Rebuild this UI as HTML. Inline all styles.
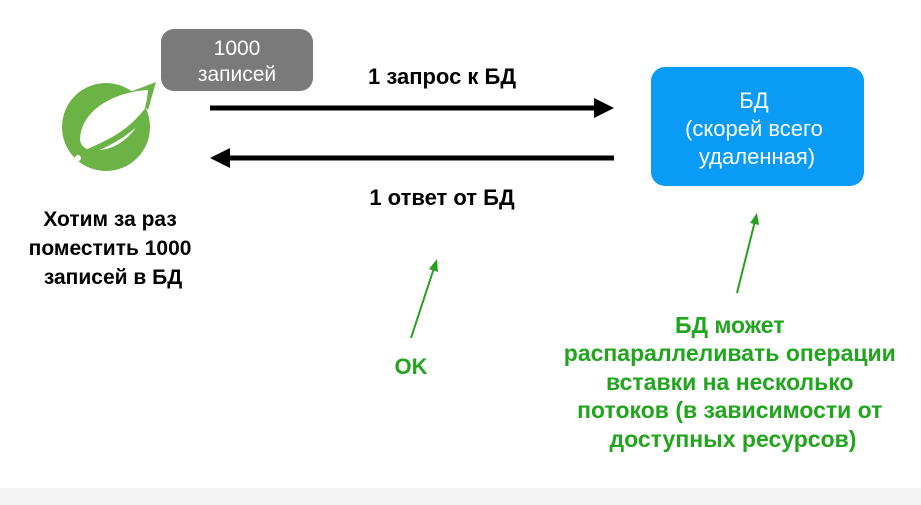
<!DOCTYPE html>
<html><head><meta charset="utf-8"><style>
html,body{margin:0;padding:0;background:#fff;}
svg{display:block;font-family:"Liberation Sans","DejaVu Sans",sans-serif;}
</style></head><body>
<svg width="921" height="505" viewBox="0 0 921 505">
<rect x="0" y="488" width="921" height="17" fill="#f3f3f3"/>
<rect x="161" y="29" width="152" height="62" rx="13" fill="#7a7a7a"/>
<text x="237" y="55" fill="#fff" font-size="21" text-anchor="middle">1000</text>
<text x="237" y="81" fill="#fff" font-size="21" text-anchor="middle">записей</text>
<circle cx="106" cy="127" r="44" fill="#6ab344"/>
<path d="M130 92 L156 82 L148 110 Z" fill="#6ab344"/>
<path d="M148 90 C112 92 80 112 80 140 C82 152 96 152 110 148 C132 140 146 118 148 90 Z" fill="#fff"/>
<path d="M80 156 C100 146 126 138 146 112" fill="none" stroke="#6ab344" stroke-width="6"/>
<circle cx="78" cy="158" r="3" fill="#fff"/>
<text font-size="21" font-weight="bold" text-anchor="middle" fill="#000">
<tspan x="113" y="226">Хотим за раз</tspan>
<tspan x="113" y="255">поместить 1000</tspan>
<tspan x="113" y="284">записей в БД</tspan>
</text>
<line x1="210" y1="108" x2="596" y2="108" stroke="#000" stroke-width="5"/>
<polygon points="594,98 614,108 594,118" fill="#000"/>
<line x1="228" y1="158" x2="614" y2="158" stroke="#000" stroke-width="5"/>
<polygon points="230,148 210,158 230,168" fill="#000"/>
<text x="442" y="84" font-size="22" font-weight="bold" text-anchor="middle">1 запрос к БД</text>
<text x="442" y="205" font-size="22" font-weight="bold" text-anchor="middle">1 ответ от БД</text>
<rect x="651" y="67" width="213" height="119" rx="14" fill="#0a9bf6"/>
<text font-size="22" fill="#fff" text-anchor="middle">
<tspan x="757" y="108">БД</tspan>
<tspan x="757" y="136">(скорей всего</tspan>
<tspan x="757" y="164">удаленная)</tspan>
</text>
<line x1="411" y1="338" x2="434" y2="268" stroke="#26a01e" stroke-width="2"/>
<polygon points="437,259 438,272 429,269" fill="#26a01e"/>
<line x1="737" y1="293" x2="755" y2="221" stroke="#26a01e" stroke-width="2"/>
<polygon points="757,213 759,225 750,223" fill="#26a01e"/>
<text x="411" y="374" font-size="22" font-weight="bold" fill="#22a51e" text-anchor="middle">OK</text>
<text font-size="23" font-weight="bold" fill="#22a51e" text-anchor="middle">
<tspan x="733" y="333">БД может</tspan>
<tspan x="733" y="361">распараллеливать операции</tspan>
<tspan x="733" y="390">вставки на несколько</tspan>
<tspan x="733" y="418">потоков (в зависимости от</tspan>
<tspan x="733" y="447">доступных ресурсов)</tspan>
</text>
</svg>
</body></html>
